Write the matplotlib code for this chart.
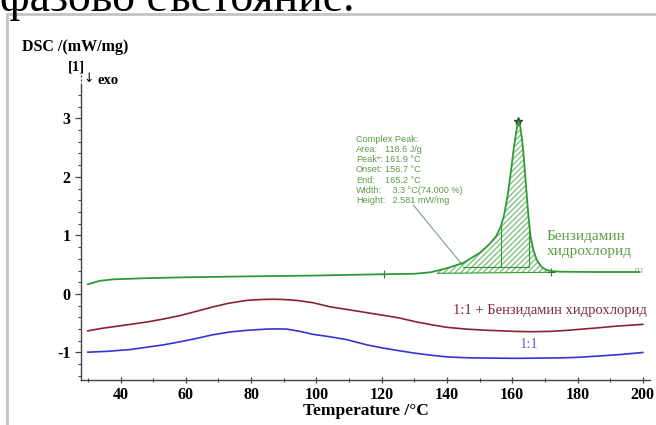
import numpy as np
import matplotlib
matplotlib.use("Agg")
import matplotlib.pyplot as plt
from matplotlib.patches import Rectangle

# ---------------- data ----------------
green_T = [30, 33.7, 37.8, 48, 60, 78.6, 100, 118.5, 130, 135, 140, 145, 150, 153, 155,
           156.5, 157.5, 158.5, 159.5, 160.5, 161.3, 161.9, 162.5, 163.2, 163.8, 164.4,
           165.0, 165.6, 166.5, 167.5, 169, 170.5, 172, 175, 185, 199]
green_v = [0.165, 0.225, 0.25, 0.27, 0.285, 0.30, 0.315, 0.335, 0.345, 0.37, 0.44, 0.53,
           0.70, 0.85, 0.98, 1.15, 1.35, 1.65, 2.05, 2.5, 2.8, 2.95, 2.85, 2.55, 2.15, 1.72,
           1.3, 0.98, 0.75, 0.58, 0.46, 0.41, 0.39, 0.38, 0.375, 0.375]

red_T = [30, 34, 37.8, 43, 48, 53, 58.2, 63, 68.4, 73, 78.6, 83, 86.8, 90, 94, 99, 104.2,
         110, 115.5, 120, 125.4, 130, 135.6, 140, 145.8, 152, 161.1, 166, 171.3, 176,
         181.6, 186, 191.8, 196, 200]
red_v = [-0.63, -0.59, -0.56, -0.52, -0.48, -0.43, -0.37, -0.30, -0.22, -0.16, -0.11,
         -0.095, -0.09, -0.095, -0.11, -0.15, -0.22, -0.27, -0.32, -0.36, -0.41, -0.47,
         -0.53, -0.57, -0.60, -0.62, -0.64, -0.645, -0.64, -0.625, -0.60, -0.58, -0.55,
         -0.535, -0.52]

blue_T = [30, 36, 42.9, 48, 53.1, 58, 63.3, 68, 73.5, 79, 84.8, 88, 90.9, 95, 99, 104,
          109.3, 112, 115.5, 120, 125.4, 130, 135.6, 140, 145.8, 152, 161.1, 170, 176.4,
          181, 186.6, 193, 200]
blue_v = [-0.995, -0.98, -0.95, -0.91, -0.87, -0.82, -0.76, -0.70, -0.65, -0.62, -0.60,
          -0.597, -0.60, -0.64, -0.69, -0.73, -0.78, -0.82, -0.87, -0.92, -0.97, -1.01,
          -1.05, -1.075, -1.09, -1.095, -1.10, -1.095, -1.09, -1.08, -1.06, -1.035, -1.0]

# baseline limit markers of the peak evaluation
limit_T = [120.8, 171.8]
limit_v = [0.345, 0.37]
peak_T = [161.9]
peak_v = [2.95]
hatch_range = [137, 171.5]
onset_end = [156.7, 165.2]
partial_base = [145.0, 0.46]

peak_labels = ["Complex Peak:", "Area:", "Peak*:", "Onset:", "End:", "Width:", "Height:"]
peak_values = ["", "118.6 J/g", "161.9 °C", "156.7 °C", "165.2 °C",
               "   3.3 °C(74.000 %)", "   2.581 mW/mg"]

xticks = [40, 60, 80, 100, 120, 140, 160, 180, 200]
yticks = [-1, 0, 1, 2, 3]

# ---------------- style ----------------
c_green = "#2f9a33"
c_green_txt = "#5b9c48"
c_red = "#8a2233"
c_red_txt = "#7a2a3a"
c_blue = "#3535d6"
c_blue_txt = "#6c62d2"
serif = "Liberation Serif"

W, H = 656, 425
fig = plt.figure(figsize=(W / 100, H / 100), dpi=100)

def fx(px):
    return px / W

def fy(py):
    return (H - py) / H

ax = fig.add_axes([fx(81), fy(380), fx(650) - fx(81), fy(85) - fy(380)])
ax.set_xlim(27.9, 202.2)
ax.set_ylim(-1.47, 3.57)

ax.plot(green_T, green_v, color=c_green, lw=1.3, zorder=3)
ax.plot(red_T, red_v, color=c_red, lw=1.2)
ax.plot(blue_T, blue_v, color=c_blue, lw=1.2)

# hatched peak area
tt = np.array([t for t in green_T if hatch_range[0] <= t <= hatch_range[1]])
tt = np.concatenate([[hatch_range[0]], tt, [hatch_range[1]]])
cv = np.interp(tt, green_T, green_v)
bv = np.interp(tt, limit_T, limit_v)
ax.fill_between(tt, bv, cv, facecolor="none", edgecolor=c_green, hatch="//////",
                lw=0, alpha=0.6)
ax.plot(tt, bv, color=c_green, lw=0.8)
# partial area lines
ax.plot([partial_base[0], onset_end[1]], [partial_base[1], partial_base[1]],
        color=c_green, lw=0.8)
for t in onset_end:
    ax.plot([t, t], [partial_base[1], np.interp(t, green_T, green_v)],
            color=c_green, lw=0.8)

ax.plot(limit_T, limit_v, ls="none", marker="+", ms=6, mew=0.8, color="#3c6e3c")
ax.plot(peak_T, peak_v, ls="none", marker="*", ms=6, color="#2d4d2d")

# leader line
ax.plot([129.7, 144.8], [1.52, 0.49], color="#7f9f7f", lw=0.8)

# peak text
for i, (lab, val) in enumerate(zip(peak_labels, peak_values)):
    ypx = 139 + i * 10.3
    fig.text(fx(356), fy(ypx), lab, fontsize=6.6, family="Liberation Sans",
             color=c_green_txt, va="center", ha="left")
    if val:
        fig.text(fx(385), fy(ypx), val, fontsize=6.6, family="Liberation Sans",
                 color=c_green_txt, va="center", ha="left")

ax.text(198.8, 0.41, "[1]", fontsize=4.5, color=c_green_txt, ha="center", va="center")

# curve labels
ax.text(170.5, 0.98, "Бензидамин", fontsize=11, family=serif, color=c_green_txt,
        ha="left", va="center")
ax.text(170.5, 0.73, "хидрохлорид", fontsize=11, family=serif, color=c_green_txt,
        ha="left", va="center")
ax.text(141.8, -0.29, "1:1 + Бензидамин хидрохлорид", fontsize=10.5, family=serif,
        color=c_red_txt, ha="left", va="center")
ax.text(165.1, -0.87, "1:1", fontsize=10.5, family=serif, color=c_blue_txt,
        ha="center", va="center")

# axes style
for s in ["top", "right"]:
    ax.spines[s].set_visible(False)
for s in ["left", "bottom"]:
    ax.spines[s].set_color("#444444")
    ax.spines[s].set_linewidth(1.0)
ax.set_xticks(xticks)
ax.set_xticks(np.arange(30, 201, 10), minor=True)
ax.set_yticks(yticks)
ax.set_yticks(np.arange(-1.4, 3.5, 0.2), minor=True)
ax.tick_params(axis="both", which="major", length=4, width=0.9, color="#444444")
ax.tick_params(axis="both", which="minor", length=2.5, width=0.8, color="#444444")
ax.tick_params(axis="x", which="both", direction="inout")
ax.set_xticklabels([str(v) for v in xticks], fontsize=11.5, family=serif,
                   fontweight="bold")
ax.set_yticklabels([str(v) for v in yticks], fontsize=11.5, family=serif,
                   fontweight="bold")
ax.tick_params(axis="x", pad=3)
ax.set_xlabel("Temperature /°C", fontsize=12.5, family=serif, fontweight="bold",
              labelpad=0)

# dotted extension of the y axis towards the "exo" marker
ax.plot([0, 0], [1.0, 1.035], transform=ax.transAxes, color="#444444", lw=0.8,
        ls=(0, (2, 1.5)), clip_on=False)

# top-left labels
fig.text(fx(22), fy(47), "DSC /(mW/mg)", fontsize=11.5, family=serif,
         fontweight="bold", va="center", ha="left")
fig.text(fx(68), fy(67), "[1]", fontsize=10.5, family=serif, fontweight="bold",
         va="center", ha="left")
fig.text(fx(83), fy(79), "↓", fontsize=9, family="DejaVu Sans",
         va="center", ha="left")
fig.text(fx(98), fy(80), "exo", fontsize=10.5, family=serif,
         fontweight="bold", va="center", ha="left")

# page context: cut-off text line and frame
fig.text(fx(0), fy(11), "фазово състояние.", fontsize=33, family=serif,
         va="baseline", ha="left")
fig.add_artist(Rectangle((fx(7), -0.1), 1.2, fy(14) + 0.1, transform=fig.transFigure,
                         fill=False, edgecolor="#c4c4c4", lw=2))

fig.savefig("out.png", dpi=100)
